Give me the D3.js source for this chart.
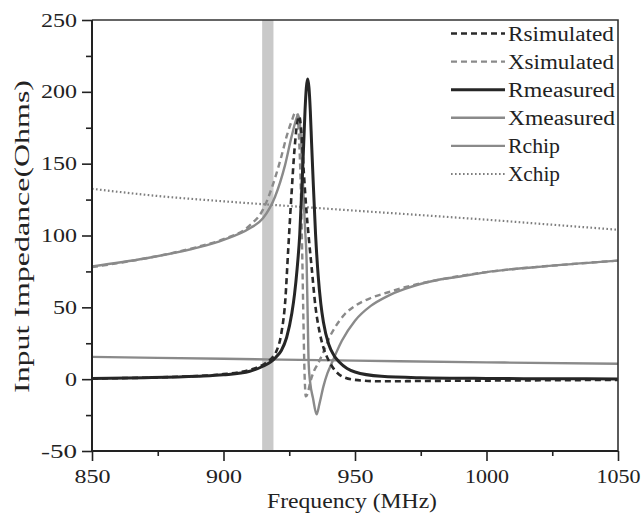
<!DOCTYPE html>
<html><head><meta charset="utf-8">
<script src="https://cdn.jsdelivr.net/npm/d3@7"></script>
<style>body{margin:0;background:#fff}svg{display:block}text{font-family:"Liberation Serif","Times New Roman",Tinos,"Nimbus Roman",FreeSerif,Times,serif;fill:#222}</style>
</head><body><svg id="c" width="643" height="519"></svg>
<script>
// ---- data ----
const xTicks = [850, 900, 950, 1000, 1050];
const yTicks = [-50, 0, 50, 100, 150, 200, 250];
const band = [914.7, 919.0];

const rSimF = [850, 880, 900, 910, 915, 918, 920, 922, 923.5, 924.6, 925.8, 927, 928, 928.8, 929.6, 930.5, 931.5, 932.5, 933.5, 935, 936.5, 938, 940, 942, 945, 950, 960, 980, 1000, 1050];
const rSimV = [0.5, 1.5, 3.5, 6.5, 10, 14, 19, 32, 55, 90, 127, 160, 178, 183, 172, 145, 118, 97, 78, 50, 33, 22, 13, 7, 2, -0.5, -1.5, -1.2, -1, -0.5];

const xSimF = [850, 870, 890, 900, 910, 915, 919.6, 922, 924, 926, 927.3, 928, 928.6, 929.2, 929.8, 930.3, 930.8, 931.3, 932, 933, 934.5, 936, 938, 940, 942.4, 946, 950, 956, 962.7, 969, 980, 1000, 1025, 1050];
const xSimV = [78, 84, 92, 97.5, 107, 118, 140, 155, 169, 180, 185.5, 185, 172, 145, 100, 50, 5, -12, -10, -2, 6, 11, 19, 28, 36, 45, 51, 56.5, 60.5, 64, 68.5, 74.5, 79, 82.5];

const rMeasF = [850, 870, 890, 900, 910, 915, 918, 920, 922, 924, 926, 927, 928, 929, 930, 930.5, 931, 931.5, 932, 932.5, 933, 933.5, 934, 935, 936, 937, 938, 940, 942, 944, 947, 950, 960, 975, 1000, 1025, 1050];
const rMeasV = [0.5, 1, 2, 3, 5.5, 9, 12, 15.5, 20, 29, 46, 59, 77, 101, 142, 164, 187, 203, 209, 203, 187, 164, 142, 101, 72, 52.6, 39.6, 24.3, 16.5, 12, 7.5, 5, 2, 1, 0.5, 0.3, 0.2];

const xMeasF = [850, 870, 890, 900, 910, 915, 919.6, 923.4, 925.9, 927.5, 928.4, 929.2, 930, 931, 931.6, 932, 932.4, 933, 934, 935.4, 936.5, 938, 939.5, 941, 943, 945, 950, 956, 962, 969, 980, 990, 1000, 1025, 1050];
const xMeasV = [78.5, 84, 91.5, 97, 105, 112, 127, 149, 169, 180, 184, 175, 145, 105, 82, 45, 10, -3, -13, -24.5, -17, -5, 4, 10.5, 19, 26.7, 40.7, 51, 57.5, 62.8, 68.5, 71.5, 74.5, 79, 82.5];

const rChipF = [850, 900, 950, 1000, 1050];
const rChipV = [15.5, 14.2, 12.9, 11.7, 10.7];

const xChipF = [850, 875, 900, 925, 950, 975, 1000, 1025, 1050];
const xChipV = [132.5, 127.5, 123.8, 120.5, 117.3, 114.2, 111, 107.5, 104];

const seriesNames = ["Rsimulated", "Xsimulated", "Rmeasured", "Xmeasured", "Rchip", "Xchip"];

// ---- chart ----
const W = 643, H = 519;
const m = {l: 92, r: 25, t: 20, b: 68};
const svg = d3.select("#c");
const x = d3.scaleLinear().domain([850, 1050]).range([m.l, W - m.r]);
const y = d3.scaleLinear().domain([-50, 250]).range([H - m.b, m.t]);

svg.append("defs").append("clipPath").attr("id", "clip")
  .append("rect").attr("x", m.l).attr("y", m.t).attr("width", W - m.l - m.r).attr("height", H - m.t - m.b);

// band
svg.append("rect").attr("x", x(band[0])).attr("y", m.t)
  .attr("width", x(band[1]) - x(band[0])).attr("height", y(-50) - m.t)
  .attr("fill", "#c9c9c9");

const styles = [
  {f: rSimF, v: rSimV, color: "#2a2a2a", w: 2.6, dash: "6,4"},
  {f: xSimF, v: xSimV, color: "#8a8a8a", w: 2.4, dash: "6,4"},
  {f: rMeasF, v: rMeasV, color: "#262626", w: 3, dash: null},
  {f: xMeasF, v: xMeasV, color: "#8a8a8a", w: 2.4, dash: null},
  {f: rChipF, v: rChipV, color: "#8a8a8a", w: 2.4, dash: null},
  {f: xChipF, v: xChipV, color: "#7e7e7e", w: 2.2, dash: "1.6,2.4"}
];
const line = d3.line().x(d => x(d[0])).y(d => y(d[1])).curve(d3.curveMonotoneX);
const g = svg.append("g").attr("clip-path", "url(#clip)");
[5, 4, 1, 3, 0, 2].forEach(i => {
  const s = styles[i];
  g.append("path").datum(s.f.map((f, k) => [f, s.v[k]]))
    .attr("d", line).attr("fill", "none").attr("stroke", s.color)
    .attr("stroke-width", s.w).attr("stroke-dasharray", s.dash)
    .attr("stroke-linejoin", "round");
});

// frame
svg.append("path").attr("d", `M${m.l},${m.t}H${W - m.r}V${H - m.b}`)
  .attr("fill", "none").attr("stroke", "#333").attr("stroke-width", 1.6);

// axes
const fmt = d => String(d);
const xAx = svg.append("g").attr("transform", `translate(0,${H - m.b})`)
  .call(d3.axisBottom(x).tickValues(xTicks).tickSize(10).tickPadding(5).tickFormat(fmt));
svg.append("g").attr("transform", `translate(0,${H - m.b})`)
  .call(d3.axisBottom(x).tickValues([875, 925, 975, 1025]).tickSize(5).tickFormat(""))
  .select(".domain").remove();
const yAx = svg.append("g").attr("transform", `translate(${m.l},0)`)
  .call(d3.axisLeft(y).tickValues(yTicks).tickSize(10).tickPadding(5).tickFormat(fmt));
svg.append("g").attr("transform", `translate(${m.l},0)`)
  .call(d3.axisLeft(y).tickValues([-25, 25, 75, 125, 175, 225]).tickSize(6).tickFormat(""))
  .select(".domain").remove();
svg.selectAll(".tick line").attr("stroke", "#222").attr("stroke-width", 1.6);
svg.selectAll(".domain").attr("stroke", "#222").attr("stroke-width", 2);
xAx.select(".domain").attr("d", `M${m.l},0H${W - m.r}`);
yAx.select(".domain").attr("d", `M0,${m.t}V${H - m.b}`);
svg.selectAll("g").attr("font-family", null);
const labW = t => t === "-50" ? 36 : t.length === 1 ? 12 : t.length === 2 ? 24 : t.length === 3 ? 36 : 44;
svg.selectAll(".tick text").filter(function() { return d3.select(this).text() !== ""; })
  .attr("font-size", 19).attr("fill", "#222")
  .attr("lengthAdjust", "spacingAndGlyphs")
  .attr("textLength", function() { return labW(d3.select(this).text()); });
xAx.selectAll(".tick text").attr("dy", "0.9em");

// axis titles
svg.append("text").attr("x", 352).attr("y", 508)
  .attr("text-anchor", "middle").attr("font-size", 20)
  .attr("textLength", 170).attr("lengthAdjust", "spacingAndGlyphs")
  .text("Frequency (MHz)");
svg.append("text").attr("transform", `translate(29,${(80 + 393) / 2}) rotate(-90)`)
  .attr("text-anchor", "middle").attr("font-size", 21)
  .attr("textLength", 313).attr("lengthAdjust", "spacingAndGlyphs")
  .text("Input Impedance(Ohms)");

// legend
const widths = [106, 106, 107, 107, 52, 52];
const lg = svg.append("g");
seriesNames.forEach((name, i) => {
  const s = styles[i];
  const yy = 33.5 + i * 28.1;
  lg.append("line").attr("x1", 451).attr("x2", 505).attr("y1", yy).attr("y2", yy)
    .attr("stroke", s.color).attr("stroke-width", s.w).attr("stroke-dasharray", s.dash);
  lg.append("text").attr("x", 508).attr("y", yy).attr("dy", "0.35em")
    .attr("font-size", 20).attr("textLength", widths[i]).attr("lengthAdjust", "spacingAndGlyphs")
    .text(name);
});
</script></body></html>
